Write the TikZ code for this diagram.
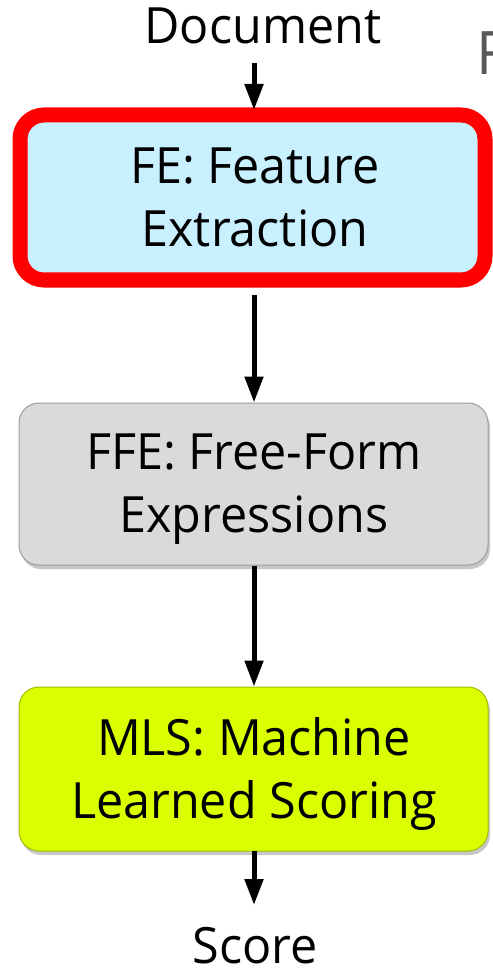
\documentclass[tikz,border=0pt]{standalone}
\usepackage{fontspec}
\setmainfont{Open Sans}[FakeStretch=0.97]
\usetikzlibrary{arrows.meta,shadows}

\definecolor{feFill}{HTML}{C8F0FE}
\definecolor{feEdge}{HTML}{FF0000}
\definecolor{ffeFill}{HTML}{DADADA}
\definecolor{ffeEdge}{HTML}{9C9C9C}
\definecolor{mlsFill}{HTML}{DAFF00}
\definecolor{mlsEdge}{HTML}{A4BC00}
\definecolor{titleGray}{HTML}{595959}

\tikzset{
  stage/.style={rectangle, inner sep=0pt,
    drop shadow={shadow xshift=2pt, shadow yshift=-4pt, opacity=0.22, fill=black}},
  stagetext/.style={inner sep=0pt, align=center,
    font=\fontsize{50}{63}\selectfont},
  flow/.style={line width=5pt, -{Triangle[length=26pt,width=18pt]}},
}

\begin{document}
\begin{tikzpicture}[x=1pt,y=-1pt]
\useasboundingbox (0,0) rectangle (492,973);

% stage boxes
\node[stage, draw=feEdge, fill=feFill, line width=15pt, rounded corners=24pt,
      minimum width=465pt, minimum height=165pt] (fe) at (252.5,197.5) {};
\node[stage, draw=ffeEdge, fill=ffeFill, line width=1pt, rounded corners=20pt,
      minimum width=469pt, minimum height=162pt] (ffe) at (253.5,484) {};
\node[stage, draw=mlsEdge, fill=mlsFill, line width=1pt, rounded corners=20pt,
      minimum width=469pt, minimum height=164pt] (mls) at (253.5,769) {};

% stage labels
\node[stagetext] (feLabel) at (255,197) {FE: Feature\\Extraction};
\node[stagetext] (ffeLabel) at (254,489) {FFE: Free-Form\\Expressions};
\node[stagetext] (mlsLabel) at (254,774) {MLS: Machine\\Learned Scoring};

% input and output
\node[inner sep=0pt, anchor=base, font=\fontsize{50}{60}\selectfont] (doc) at (263,44) {Document};
\node[inner sep=0pt, anchor=base, font=\fontsize{50}{60}\selectfont] (score) at (255,963) {Score};
\coordinate (docEnd) at (254,63);
\coordinate (docTip) at (254,110);
\coordinate (scoreEnd) at (254,851);
\coordinate (scoreTip) at (254,905);
\coordinate (feOut) at ([yshift=-7.5pt]fe.south);

% edge of a heading running off the right side
\node[inner sep=0pt, anchor=base west, text=titleGray, font=\fontsize{60}{70}\selectfont] (heading) at (476,75) {F};

% connectors
\draw[flow] (docEnd) -- (docTip);
\draw[flow] (feOut -| docEnd) -- (ffe.north -| docEnd);
\draw[flow] (ffe.south -| docEnd) -- (mls.north -| docEnd);
\draw[flow] (scoreEnd) -- (scoreTip);
\end{tikzpicture}
\end{document}
